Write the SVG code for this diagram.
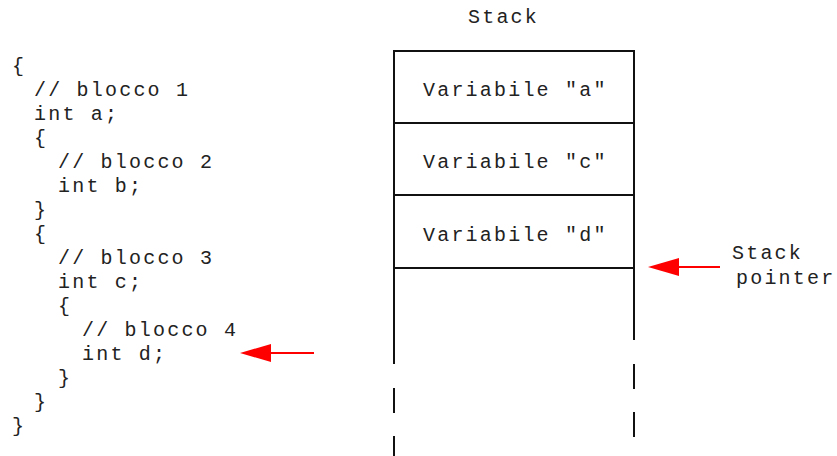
<svg xmlns="http://www.w3.org/2000/svg" width="837" height="456" viewBox="0 0 837 456">
<style>
.t{font-family:"Liberation Mono","Courier New",monospace;font-size:20px;letter-spacing:2.2px;fill:#222}
.ln{stroke:#111;stroke-width:2;fill:none}
.ar{stroke:#f00;stroke-width:2;fill:none}
</style>
<defs>
<marker id="ah" markerWidth="32" markerHeight="20" refX="0" refY="10" orient="auto" markerUnits="userSpaceOnUse">
<polygon points="0,10 31,1 31,19" fill="#f00"/>
</marker>
</defs>
<rect width="837" height="456" fill="#fff"/>
<g id="code">
<text class="t" x="12" y="72">{</text>
<text class="t" x="34" y="96">// blocco 1</text>
<text class="t" x="34" y="120">int a;</text>
<text class="t" x="34" y="144">{</text>
<text class="t" x="58" y="168">// blocco 2</text>
<text class="t" x="58" y="192">int b;</text>
<text class="t" x="34" y="216">}</text>
<text class="t" x="34" y="240">{</text>
<text class="t" x="58" y="264">// blocco 3</text>
<text class="t" x="58" y="288">int c;</text>
<text class="t" x="58" y="312">{</text>
<text class="t" x="82" y="336">// blocco 4</text>
<text class="t" x="82" y="360">int d;</text>
<text class="t" x="58" y="384">}</text>
<text class="t" x="34" y="408">}</text>
<text class="t" x="12" y="432">}</text>
</g>
<g id="stack">
<text class="t" x="468" y="23">Stack</text>
<path class="ln" d="M394,51H634M394,123H634M394,195H634M394,268H634"/>
<path class="ln" d="M394,50V364M394,388V413M394,436V456"/>
<path class="ln" d="M634,50V340M634,364V389M634,412V437"/>
</g>
<g id="cell-a"><text class="t" x="423" y="96">Variabile "a"</text></g>
<g id="cell-c"><text class="t" x="423" y="168">Variabile "c"</text></g>
<g id="cell-d"><text class="t" x="423" y="241">Variabile "d"</text></g>
<g id="sp-label">
<text class="t" x="732" y="259">Stack</text>
<text class="t" x="736" y="284">pointer</text>
</g>
<g id="connectors">
<line class="ar" x1="314" y1="353" x2="270" y2="353"/>
<polygon points="240,353 271,344 271,362" fill="#f00"/>
<line class="ar" x1="720" y1="267" x2="678" y2="267"/>
<polygon points="648,267 679,258 679,276" fill="#f00"/>
</g>
</svg>
